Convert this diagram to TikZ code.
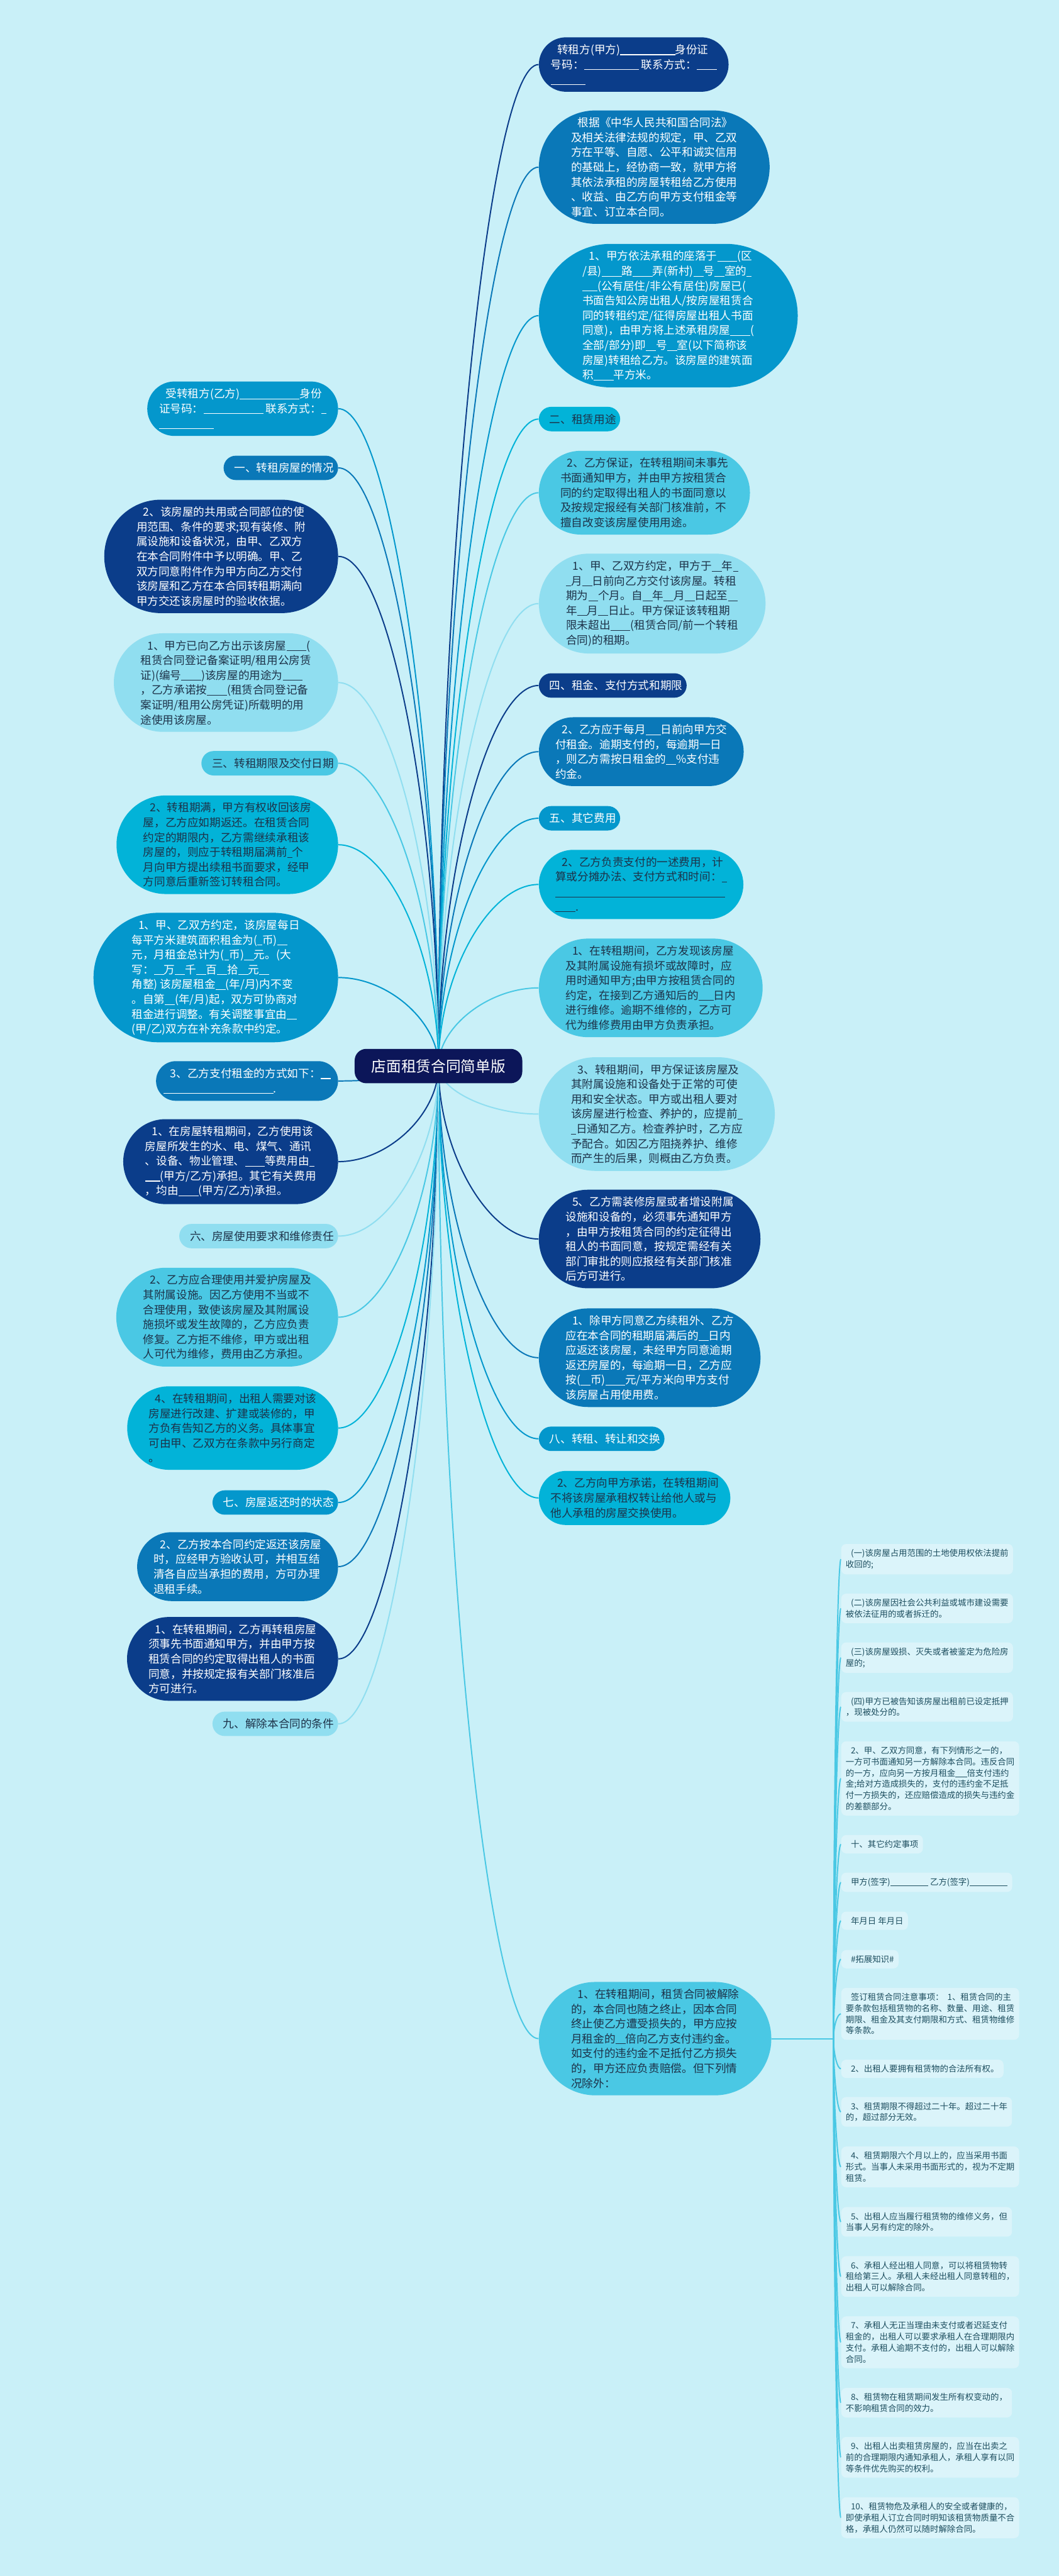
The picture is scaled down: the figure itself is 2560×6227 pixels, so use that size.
\documentclass[tikz,border=0pt]{standalone}
\usepackage{fontspec}
\setmainfont{Noto Sans CJK SC}
\usetikzlibrary{shapes.misc, calc, backgrounds}

\definecolor{mmbg}{HTML}{C9F0F8}
\definecolor{mmroot}{HTML}{0C1659}
\definecolor{mmnavy}{HTML}{0B3D8A}
\definecolor{mmblue}{HTML}{0A78B8}
\definecolor{mmsky}{HTML}{0497CC}
\definecolor{mmcyan}{HTML}{02B3D8}
\definecolor{mmaqua}{HTML}{4AC8E4}
\definecolor{mmpale}{HTML}{90DEF0}
\definecolor{mmleaf}{HTML}{DBF4FA}
\definecolor{mmink}{HTML}{1D3249}
\definecolor{mmleafink}{HTML}{1D4E5F}

\newcommand\bodyfont{\fontsize{7.62}{10.2}\selectfont}
\newcommand\leaffont{\fontsize{5.8}{7.68}\selectfont}
\newcommand\rootfont{\fontsize{10.24}{12}\selectfont}
\newcommand\ind{\hspace*{.6em}}
\newcommand\bl[1]{\rule[-.12em]{\dimexpr .45em*#1\relax}{.06em}}

\tikzset{
  pill/.style={
    rounded rectangle,
    inner xsep=0.07cm,
    inner ysep=0.17cm,
    align=left,
    font=\bodyfont
  },
  pnavy/.style={pill, fill=mmnavy, text=white},
  pblue/.style={pill, fill=mmblue, text=white},
  psky/.style={pill, fill=mmsky, text=white},
  pcyan/.style={pill, fill=mmcyan, text=mmink},
  paqua/.style={pill, fill=mmaqua, text=mmink},
  ppale/.style={pill, fill=mmpale, text=mmink},
  rootbox/.style={
    rectangle,
    rounded corners=0.28cm,
    fill=mmroot,
    text=white,
    font=\rootfont,
    minimum width=4.05cm,
    minimum height=0.83cm
  },
  leaf/.style={
    rectangle,
    rounded corners=0.12cm,
    fill=mmleaf,
    text=mmleafink,
    align=left,
    font=\leaffont,
    inner xsep=0.11cm,
    inner ysep=0.127cm
  },
  link/.style={
    line width=0.03cm,
    to path={.. controls ($(\tikztostart)!.5!(\tikztostart|-\tikztotarget)$)
      and ($(\tikztotarget)!.5!(\tikztostart|-\tikztotarget)$) .. (\tikztotarget)}
  }
}

\begin{document}
\begin{tikzpicture}[x=0.01cm, y=-0.01cm]
    \useasboundingbox (0,0) rectangle (2560,6227);

    % centre
    \node[rootbox] (root) at (1060,2577) {店面租赁合同简单版};
    \coordinate (hub) at (root.center);

    % right side
    \node[pnavy, anchor=west] (r1) at (1302,156) {\ind 转租方(甲方)\bl{11}身份证\\号码：\bl{11} 联系方式：\bl4\\\bl7};
    \node[pblue, anchor=west] (r2) at (1302,404) {\ind 根据《中华人民共和国合同法》\\及相关法律法规的规定，甲、乙双\\方在平等、自愿、公平和诚实信用\\的基础上，经协商一致，就甲方将\\其依法承租的房屋转租给乙方使用\\、收益、由乙方向甲方支付租金等\\事宜、订立本合同。};
    \node[psky, anchor=west] (r3) at (1302,763) {\ind 1、甲方依法承租的座落于\bl4(区\\/县)\bl4路\bl4弄(新村)\bl2号\bl2室的\bl1\\\bl3(公有居住/非公有居住)房屋已(\\书面告知公房出租人/按房屋租赁合\\同的转租约定/征得房屋出租人书面\\同意)，由甲方将上述承租房屋\bl4(\\全部/部分)即\bl2号\bl2室(以下简称该\\房屋)转租给乙方。该房屋的建筑面\\积\bl4平方米。};
    \node[pcyan, anchor=west] (r4) at (1302,1013) {\ind 二、租赁用途};
    \node[paqua, anchor=west] (r5) at (1302,1191) {\ind 2、乙方保证，在转租期间未事先\\书面通知甲方，并由甲方按租赁合\\同的约定取得出租人的书面同意以\\及按规定报经有关部门核准前，不\\擅自改变该房屋使用用途。};
    \node[ppale, anchor=west] (r6) at (1302,1459) {\ind 1、甲、乙双方约定，甲方于\bl2年\bl1\\\bl1月\bl2日前向乙方交付该房屋。转租\\期为\bl2个月。自\bl2年\bl2月\bl2日起至\bl2\\年\bl2月\bl2日止。甲方保证该转租期\\限未超出\bl4(租赁合同/前一个转租\\合同)的租期。};
    \node[pnavy, anchor=west] (r7) at (1302,1657) {\ind 四、租金、支付方式和期限};
    \node[pblue, anchor=west] (r8) at (1302,1817) {\ind 2、乙方应于每月\bl3日前向甲方交\\付租金。逾期支付的，每逾期一日\\，则乙方需按日租金的\bl2\%支付违\\约金。};
    \node[psky, anchor=west] (r9) at (1302,1978) {\ind 五、其它费用};
    \node[pcyan, anchor=west] (r10) at (1302,2138) {\ind 2、乙方负责支付的一述费用，计\\算或分摊办法、支付方式和时间：\bl1\\\bl{34}\\\bl4.};
    \node[paqua, anchor=west] (r11) at (1302,2388) {\ind 1、在转租期间，乙方发现该房屋\\及其附属设施有损坏或故障时，应\\用时通知甲方;由甲方按租赁合同的\\约定，在接到乙方通知后的\bl3日内\\进行维修。逾期不维修的，乙方可\\代为维修费用由甲方负责承担。};
    \node[ppale, anchor=west] (r12) at (1302,2693) {\ind 3、转租期间，甲方保证该房屋及\\其附属设施和设备处于正常的可使\\用和安全状态。甲方或出租人要对\\该房屋进行检查、养护的，应提前\bl1\\\bl1日通知乙方。检查养护时，乙方应\\予配合。如因乙方阻挠养护、维修\\而产生的后果，则概由乙方负责。};
    \node[pnavy, anchor=west] (r13) at (1302,2995) {\ind 5、乙方需装修房屋或者增设附属\\设施和设备的，必须事先通知甲方\\，由甲方按租赁合同的约定征得出\\租人的书面同意，按规定需经有关\\部门审批的则应报经有关部门核准\\后方可进行。};
    \node[pblue, anchor=west] (r14) at (1302,3282) {\ind 1、除甲方同意乙方续租外、乙方\\应在本合同的租期届满后的\bl2日内\\应返还该房屋，未经甲方同意逾期\\返还房屋的，每逾期一日，乙方应\\按(\bl2币)\bl4元/平方米向甲方支付\\该房屋占用使用费。};
    \node[psky, anchor=west] (r15) at (1302,3478) {\ind 八、转租、转让和交换};
    \node[pcyan, anchor=west] (r16) at (1302,3621) {\ind 2、乙方向甲方承诺，在转租期间\\不将该房屋承租权转让给他人或与\\他人承租的房屋交换使用。};
    \node[paqua, anchor=west] (r17) at (1302,4928) {\ind 1、在转租期间，租赁合同被解除\\的，本合同也随之终止，因本合同\\终止使乙方遭受损失的，甲方应按\\月租金的\bl2倍向乙方支付违约金。\\如支付的违约金不足抵付乙方损失\\的，甲方还应负责赔偿。但下列情\\况除外：};

    % left side
    \node[psky, anchor=east] (l1) at (818,988) {\ind 受转租方(乙方)\bl{12}身份\\证号码：\bl{12} 联系方式：\bl1\\\bl{11}};
    \node[pblue, anchor=east] (l2) at (818,1131) {\ind 一、转租房屋的情况};
    \node[pnavy, anchor=east] (l3) at (818,1345) {\ind 2、该房屋的共用或合同部位的使\\用范围、条件的要求;现有装修、附\\属设施和设备状况，由甲、乙双方\\在本合同附件中予以明确。甲、乙\\双方同意附件作为甲方向乙方交付\\该房屋和乙方在本合同转租期满向\\甲方交还该房屋时的验收依据。};
    \node[ppale, anchor=east] (l4) at (818,1650) {\ind 1、甲方已向乙方出示该房屋\bl4(\\租赁合同登记备案证明/租用公房赁\\证)(编号\bl4)该房屋的用途为\bl4\\，乙方承诺按\bl4(租赁合同登记备\\案证明/租用公房凭证)所载明的用\\途使用该房屋。};
    \node[paqua, anchor=east] (l5) at (818,1845) {\ind 三、转租期限及交付日期};
    \node[pcyan, anchor=east] (l6) at (818,2042) {\ind 2、转租期满，甲方有权收回该房\\屋，乙方应如期返还。在租赁合同\\约定的期限内，乙方需继续承租该\\房屋的，则应于转租期届满前\bl1个\\月向甲方提出续租书面要求，经甲\\方同意后重新签订转租合同。};
    \node[psky, anchor=east] (l7) at (818,2363) {\ind 1、甲、乙双方约定，该房屋每日\\每平方米建筑面积租金为(\bl1币)\bl2\\元，月租金总计为(\bl1币)\bl2元。(大\\写：\bl2万\bl2千\bl2百\bl2拾\bl2元\bl2\\角整) 该房屋租金\bl2(年/月)内不变\\。自第\bl2(年/月)起，双方可协商对\\租金进行调整。有关调整事宜由\bl2\\(甲/乙)双方在补充条款中约定。};
    \node[pblue, anchor=east] (l8) at (818,2613) {\ind 3、乙方支付租金的方式如下：\bl2\\\bl{22}.};
    \node[pnavy, anchor=east] (l9) at (818,2808) {\ind 1、在房屋转租期间，乙方使用该\\房屋所发生的水、电、煤气、通讯\\、设备、物业管理、\bl4等费用由\bl1\\\bl3(甲方/乙方)承担。其它有关费用\\，均由\bl4(甲方/乙方)承担。};
    \node[ppale, anchor=east] (l10) at (818,2988) {\ind 六、房屋使用要求和维修责任};
    \node[paqua, anchor=east] (l11) at (818,3184) {\ind 2、乙方应合理使用并爱护房屋及\\其附属设施。因乙方使用不当或不\\合理使用，致使该房屋及其附属设\\施损坏或发生故障的，乙方应负责\\修复。乙方拒不维修，甲方或出租\\人可代为维修，费用由乙方承担。};
    \node[pcyan, anchor=east] (l12) at (818,3452) {\ind 4、在转租期间，出租人需要对该\\房屋进行改建、扩建或装修的，甲\\方负有告知乙方的义务。具体事宜\\可由甲、乙双方在条款中另行商定\\。};
    \node[psky, anchor=east] (l13) at (818,3632) {\ind 七、房屋返还时的状态};
    \node[pblue, anchor=east] (l14) at (818,3787) {\ind 2、乙方按本合同约定返还该房屋\\时，应经甲方验收认可，并相互结\\清各自应当承担的费用，方可办理\\退租手续。};
    \node[pnavy, anchor=east] (l15) at (818,4010) {\ind 1、在转租期间，乙方再转租房屋\\须事先书面通知甲方，并由甲方按\\租赁合同的约定取得出租人的书面\\同意，并按规定报有关部门核准后\\方可进行。};
    \node[ppale, anchor=east] (l16) at (818,4167) {\ind 九、解除本合同的条件};

    % leaves of r17
    \coordinate (hub2) at (2015,4928);
    \node[leaf, anchor=west] (f1) at (2033,3769) {\ind (一)该房屋占用范围的土地使用权依法提前\\收回的;};
    \node[leaf, anchor=west] (f2) at (2033,3888) {\ind (二)该房屋因社会公共利益或城市建设需要\\被依法征用的或者拆迁的。};
    \node[leaf, anchor=west] (f3) at (2033,4007) {\ind (三)该房屋毁损、灭失或者被鉴定为危险房\\屋的;};
    \node[leaf, anchor=west] (f4) at (2033,4126) {\ind (四)甲方已被告知该房屋出租前已设定抵押\\，现被处分的。};
    \node[leaf, anchor=west] (f5) at (2033,4299) {\ind 2、甲、乙双方同意，有下列情形之一的，\\一方可书面通知另一方解除本合同。违反合同\\的一方，应向另一方按月租金\bl3倍支付违约\\金;给对方造成损失的，支付的违约金不足抵\\付一方损失的，还应赔偿造成的损失与违约金\\的差额部分。};
    \node[leaf, anchor=west] (f6) at (2033,4458) {\ind 十、其它约定事项};
    \node[leaf, anchor=west] (f7) at (2033,4550) {\ind 甲方(签字)\bl{10} 乙方(签字)\bl{10}};
    \node[leaf, anchor=west] (f8) at (2033,4643) {\ind 年月日 年月日};
    \node[leaf, anchor=west] (f9) at (2033,4736) {\ind \#拓展知识\#};
    \node[leaf, anchor=west] (f10) at (2033,4868) {\ind 签订租赁合同注意事项：\ \ 1、租赁合同的主\\要条款包括租赁物的名称、数量、用途、租赁\\期限、租金及其支付期限和方式、租赁物维修\\等条款。};
    \node[leaf, anchor=west] (f11) at (2033,5001) {\ind 2、出租人要拥有租赁物的合法所有权。};
    \node[leaf, anchor=west] (f12) at (2033,5105) {\ind 3、租赁期限不得超过二十年。超过二十年\\的，超过部分无效。};
    \node[leaf, anchor=west] (f13) at (2033,5238) {\ind 4、租赁期限六个月以上的，应当采用书面\\形式。当事人未采用书面形式的，视为不定期\\租赁。};
    \node[leaf, anchor=west] (f14) at (2033,5371) {\ind 5、出租人应当履行租赁物的维修义务，但\\当事人另有约定的除外。};
    \node[leaf, anchor=west] (f15) at (2033,5503) {\ind 6、承租人经出租人同意，可以将租赁物转\\租给第三人。承租人未经出租人同意转租的，\\出租人可以解除合同。};
    \node[leaf, anchor=west] (f16) at (2033,5662) {\ind 7、承租人无正当理由未支付或者迟延支付\\租金的，出租人可以要求承租人在合理期限内\\支付。承租人逾期不支付的，出租人可以解除\\合同。};
    \node[leaf, anchor=west] (f17) at (2033,5808) {\ind 8、租赁物在租赁期间发生所有权变动的，\\不影响租赁合同的效力。};
    \node[leaf, anchor=west] (f18) at (2033,5940) {\ind 9、出租人出卖租赁房屋的，应当在出卖之\\前的合理期限内通知承租人，承租人享有以同\\等条件优先购买的权利。};
    \node[leaf, anchor=west] (f19) at (2033,6086) {\ind 10、租赁物危及承租人的安全或者健康的，\\即使承租人订立合同时明知该租赁物质量不合\\格，承租人仍然可以随时解除合同。};

    \begin{scope}[on background layer]
    \fill[mmbg] (0,0) rectangle (2560,6227);
    % right branches
    \draw[link, mmnavy] (hub) to (r1.west);
    \draw[link, mmblue] (hub) to (r2.west);
    \draw[link, mmsky] (hub) to (r3.west);
    \draw[link, mmcyan] (hub) to (r4.west);
    \draw[link, mmaqua] (hub) to (r5.west);
    \draw[link, mmpale] (hub) to (r6.west);
    \draw[link, mmnavy] (hub) to (r7.west);
    \draw[link, mmblue] (hub) to (r8.west);
    \draw[link, mmsky] (hub) to (r9.west);
    \draw[link, mmcyan] (hub) to (r10.west);
    \draw[link, mmaqua] (hub) to (r11.west);
    \draw[link, mmpale] (hub) to (r12.west);
    \draw[link, mmnavy] (hub) to (r13.west);
    \draw[link, mmblue] (hub) to (r14.west);
    \draw[link, mmsky] (hub) to (r15.west);
    \draw[link, mmcyan] (hub) to (r16.west);
    \draw[link, mmaqua] (hub) to (r17.west);
    % left branches
    \draw[link, mmsky] (hub) to (l1.east);
    \draw[link, mmblue] (hub) to (l2.east);
    \draw[link, mmnavy] (hub) to (l3.east);
    \draw[link, mmpale] (hub) to (l4.east);
    \draw[link, mmaqua] (hub) to (l5.east);
    \draw[link, mmcyan] (hub) to (l6.east);
    \draw[link, mmsky] (hub) to (l7.east);
    \draw[link, mmblue] (hub) to (l8.east);
    \draw[link, mmnavy] (hub) to (l9.east);
    \draw[link, mmpale] (hub) to (l10.east);
    \draw[link, mmaqua] (hub) to (l11.east);
    \draw[link, mmcyan] (hub) to (l12.east);
    \draw[link, mmsky] (hub) to (l13.east);
    \draw[link, mmblue] (hub) to (l14.east);
    \draw[link, mmnavy] (hub) to (l15.east);
    \draw[link, mmpale] (hub) to (l16.east);
    % leaf branches
    \draw[line width=0.03cm, mmaqua] (r17.east) -- (hub2);
    \draw[link, mmaqua] (hub2) to (f1.west);
    \draw[link, mmaqua] (hub2) to (f2.west);
    \draw[link, mmaqua] (hub2) to (f3.west);
    \draw[link, mmaqua] (hub2) to (f4.west);
    \draw[link, mmaqua] (hub2) to (f5.west);
    \draw[link, mmaqua] (hub2) to (f6.west);
    \draw[link, mmaqua] (hub2) to (f7.west);
    \draw[link, mmaqua] (hub2) to (f8.west);
    \draw[link, mmaqua] (hub2) to (f9.west);
    \draw[link, mmaqua] (hub2) to (f10.west);
    \draw[link, mmaqua] (hub2) to (f11.west);
    \draw[link, mmaqua] (hub2) to (f12.west);
    \draw[link, mmaqua] (hub2) to (f13.west);
    \draw[link, mmaqua] (hub2) to (f14.west);
    \draw[link, mmaqua] (hub2) to (f15.west);
    \draw[link, mmaqua] (hub2) to (f16.west);
    \draw[link, mmaqua] (hub2) to (f17.west);
    \draw[link, mmaqua] (hub2) to (f18.west);
    \draw[link, mmaqua] (hub2) to (f19.west);
    \end{scope}
\end{tikzpicture}
\end{document}
